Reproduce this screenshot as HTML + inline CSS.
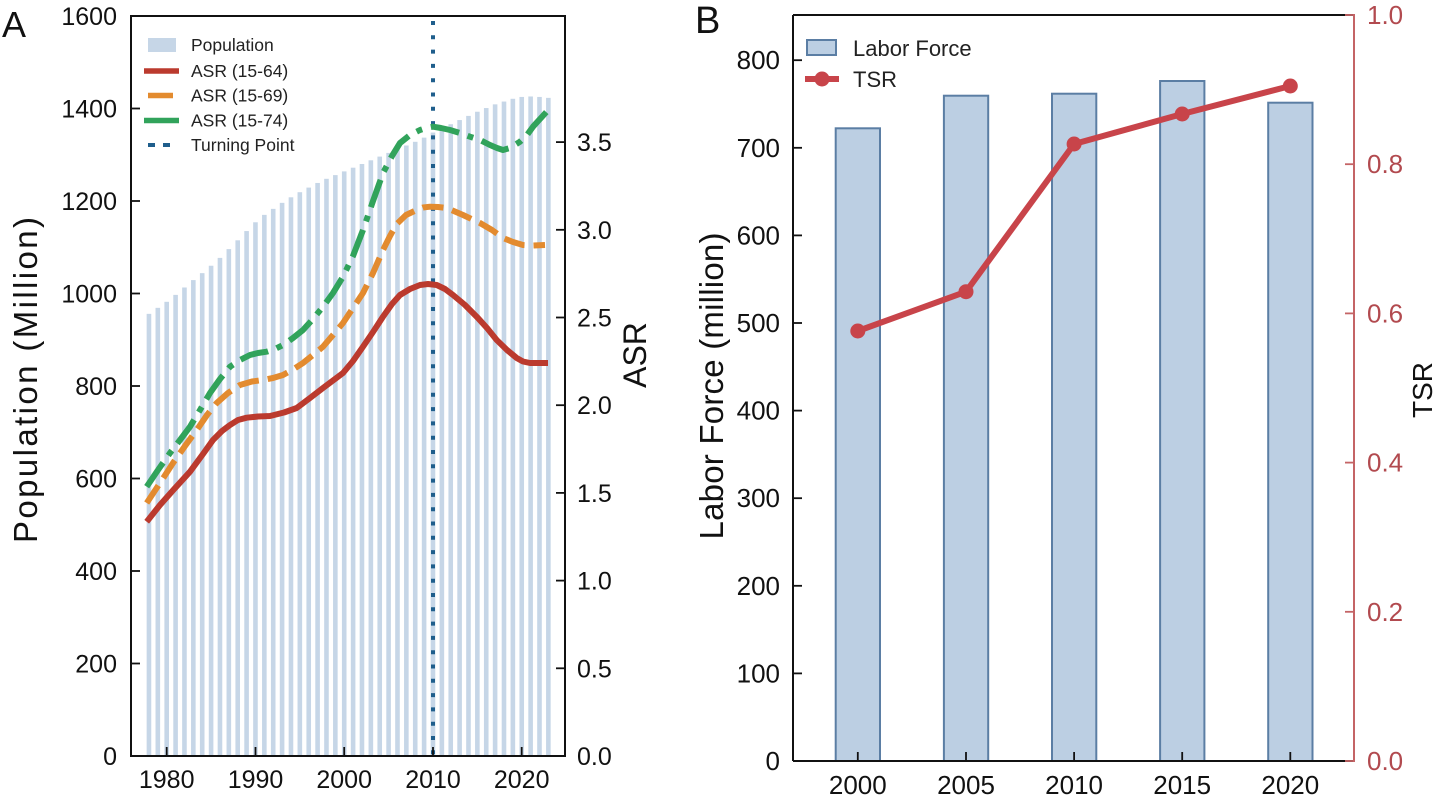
<!DOCTYPE html>
<html>
<head>
<meta charset="utf-8">
<style>
  html,body{margin:0;padding:0;background:#fff;}
  svg{display:block;}
  text{font-family:"Liberation Sans", Arial, sans-serif;}
</style>
</head>
<body>
<svg width="1442" height="800" viewBox="0 0 1442 800" xmlns="http://www.w3.org/2000/svg">
  <rect x="0" y="0" width="1442" height="800" fill="#fff"/>

  <!-- ================= PANEL A ================= -->
  <text x="2" y="37" font-size="36" fill="#111">A</text>

  <!-- population bars -->
  <g fill="#c6d6e7">
    <rect x="146.65" y="313.85" width="4.6" height="442.15"/>
    <rect x="155.52" y="307.84" width="4.6" height="448.16"/>
    <rect x="164.40" y="301.82" width="4.6" height="454.18"/>
    <rect x="173.28" y="294.89" width="4.6" height="461.11"/>
    <rect x="182.15" y="287.49" width="4.6" height="468.51"/>
    <rect x="191.03" y="280.09" width="4.6" height="475.91"/>
    <rect x="199.90" y="273.15" width="4.6" height="482.85"/>
    <rect x="208.78" y="265.75" width="4.6" height="490.25"/>
    <rect x="217.66" y="257.89" width="4.6" height="498.11"/>
    <rect x="226.53" y="249.10" width="4.6" height="506.90"/>
    <rect x="235.41" y="240.31" width="4.6" height="515.69"/>
    <rect x="244.28" y="231.06" width="4.6" height="524.94"/>
    <rect x="253.16" y="222.27" width="4.6" height="533.73"/>
    <rect x="262.04" y="214.87" width="4.6" height="541.13"/>
    <rect x="270.91" y="208.86" width="4.6" height="547.14"/>
    <rect x="279.79" y="202.85" width="4.6" height="553.15"/>
    <rect x="288.66" y="197.30" width="4.6" height="558.70"/>
    <rect x="297.54" y="192.21" width="4.6" height="563.79"/>
    <rect x="306.42" y="187.59" width="4.6" height="568.41"/>
    <rect x="315.29" y="182.96" width="4.6" height="573.04"/>
    <rect x="324.17" y="178.80" width="4.6" height="577.20"/>
    <rect x="333.04" y="175.10" width="4.6" height="580.90"/>
    <rect x="341.92" y="171.40" width="4.6" height="584.60"/>
    <rect x="350.80" y="167.70" width="4.6" height="588.30"/>
    <rect x="359.67" y="164.00" width="4.6" height="592.00"/>
    <rect x="368.55" y="160.30" width="4.6" height="595.70"/>
    <rect x="377.42" y="156.60" width="4.6" height="599.40"/>
    <rect x="386.30" y="152.90" width="4.6" height="603.10"/>
    <rect x="395.18" y="149.20" width="4.6" height="606.80"/>
    <rect x="404.05" y="145.50" width="4.6" height="610.50"/>
    <rect x="412.93" y="141.80" width="4.6" height="614.20"/>
    <rect x="421.80" y="137.64" width="4.6" height="618.36"/>
    <rect x="430.68" y="132.55" width="4.6" height="623.45"/>
    <rect x="439.56" y="128.39" width="4.6" height="627.61"/>
    <rect x="448.43" y="124.22" width="4.6" height="631.78"/>
    <rect x="457.31" y="120.06" width="4.6" height="635.94"/>
    <rect x="466.18" y="115.90" width="4.6" height="640.10"/>
    <rect x="475.06" y="111.74" width="4.6" height="644.26"/>
    <rect x="483.94" y="108.04" width="4.6" height="647.96"/>
    <rect x="492.81" y="104.34" width="4.6" height="651.66"/>
    <rect x="501.69" y="101.56" width="4.6" height="654.44"/>
    <rect x="510.56" y="98.79" width="4.6" height="657.21"/>
    <rect x="519.44" y="96.94" width="4.6" height="659.06"/>
    <rect x="528.32" y="96.47" width="4.6" height="659.53"/>
    <rect x="537.19" y="96.94" width="4.6" height="659.06"/>
    <rect x="546.07" y="97.86" width="4.6" height="658.14"/>
  </g>

  <!-- turning point -->
  <line x1="433" y1="21" x2="433" y2="756" stroke="#1f5e8c" stroke-width="4" stroke-dasharray="4,10.3"/>

  <!-- ASR 15-64 (red, solid) -->
  <polyline fill="none" stroke="#bb3a2e" stroke-width="6" stroke-linejoin="round" stroke-linecap="butt"
    points="146.7,521.7 160,505 173.3,490 190,471.7 203,454 213,440 222,431 230,425 238,420 246.7,417.7 258,416.5 270,416 284,412.5 296.7,408 310,398 323,388 343,373 353,361 363,346.7 373,332 383,316.7 392,304 400,295 410,289 420,285 428,284 436.7,285 445,289 453,295 465,305 476.7,316.7 487,328 496.7,340 507,350 516.7,358 523,361.5 530,363 548,363"/>

  <!-- ASR 15-69 (orange, dashed) -->
  <polyline fill="none" stroke="#e38b2f" stroke-width="6" stroke-linejoin="round" stroke-dasharray="21,9"
    points="146.7,503 160,483 173,463 185,446 196.7,430 207,415 216.7,403 228,393 240,385 252,381.5 263,380 273,378 283,375 293,369.5 303,363 313,355 323,346.7 333,335 343,323 353,308 363,293 373,273 383,250 390,236 396.7,224 406,215 416.7,210 423,207.5 430,206.7 438,207 446.7,208 463,215 480,223 492,230 503,238 513,242 523,245 533,245.5 545,245"/>

  <!-- ASR 15-74 (green, dash-dot) -->
  <polyline fill="none" stroke="#31a35b" stroke-width="6" stroke-linejoin="round" stroke-dasharray="29,9,6,9"
    points="146.7,486.7 158,470 170,453 180,440 190,426.7 200,410 210,393 220,379 230,366.7 240,360 250,355 258,353 266.7,351.7 275,349 283,345 293,338 303,330 313,319 323,306.7 333,293 343,276.7 353,256 363,230 373,201 383,173 392,156 400,143 410,135 420,130 426,128 433,126.7 441,128 450,130 460,133 470,136.7 480,140 490,145 497,148 503,150 510,148 520,141.7 527,135 533,126.7 540,119 546.7,111.7"/>

  <!-- frame A -->
  <rect x="131" y="16" width="434" height="740" fill="none" stroke="#111" stroke-width="2"/>

  <!-- ticks A -->
  <g stroke="#111" stroke-width="1.8">
    <line x1="131" y1="663.5" x2="140" y2="663.5"/>
    <line x1="131" y1="571" x2="140" y2="571"/>
    <line x1="131" y1="478.5" x2="140" y2="478.5"/>
    <line x1="131" y1="386" x2="140" y2="386"/>
    <line x1="131" y1="293.5" x2="140" y2="293.5"/>
    <line x1="131" y1="201" x2="140" y2="201"/>
    <line x1="131" y1="108.5" x2="140" y2="108.5"/>
    <line x1="556" y1="668.3" x2="565" y2="668.3"/>
    <line x1="556" y1="580.6" x2="565" y2="580.6"/>
    <line x1="556" y1="492.9" x2="565" y2="492.9"/>
    <line x1="556" y1="405.2" x2="565" y2="405.2"/>
    <line x1="556" y1="317.5" x2="565" y2="317.5"/>
    <line x1="556" y1="229.8" x2="565" y2="229.8"/>
    <line x1="556" y1="142.1" x2="565" y2="142.1"/>
    <line x1="166.7" y1="747" x2="166.7" y2="756"/>
    <line x1="255.5" y1="747" x2="255.5" y2="756"/>
    <line x1="344.2" y1="747" x2="344.2" y2="756"/>
    <line x1="433" y1="747" x2="433" y2="756"/>
    <line x1="521.7" y1="747" x2="521.7" y2="756"/>
  </g>

  <g font-size="25" fill="#111" text-anchor="end">
    <text x="117" y="765">0</text>
    <text x="117" y="672.5">200</text>
    <text x="117" y="580">400</text>
    <text x="117" y="487.5">600</text>
    <text x="117" y="395">800</text>
    <text x="117" y="302.5">1000</text>
    <text x="117" y="210">1200</text>
    <text x="117" y="117.5">1400</text>
    <text x="117" y="25">1600</text>
  </g>
  <g font-size="25" fill="#111" text-anchor="start">
    <text x="577" y="765">0.0</text>
    <text x="577" y="677.3">0.5</text>
    <text x="577" y="589.6">1.0</text>
    <text x="577" y="501.9">1.5</text>
    <text x="577" y="414.2">2.0</text>
    <text x="577" y="326.5">2.5</text>
    <text x="577" y="238.8">3.0</text>
    <text x="577" y="151.1">3.5</text>
  </g>
  <g font-size="25" fill="#111" text-anchor="middle">
    <text x="166.7" y="788">1980</text>
    <text x="255.5" y="788">1990</text>
    <text x="344.2" y="788">2000</text>
    <text x="433" y="788">2010</text>
    <text x="521.7" y="788">2020</text>
  </g>

  <text transform="translate(37,380) rotate(-90)" font-size="33" fill="#111" text-anchor="middle" textLength="326" lengthAdjust="spacing">Population (Million)</text>
  <text transform="translate(646,355) rotate(-90)" font-size="32" fill="#111" text-anchor="middle">ASR</text>

  <!-- legend A -->
  <rect x="148" y="38" width="28" height="14" fill="#c6d6e7"/>
  <line x1="144" y1="71" x2="179" y2="71" stroke="#bb3a2e" stroke-width="5.5"/>
  <line x1="148" y1="95.5" x2="173" y2="95.5" stroke="#e38b2f" stroke-width="5.5"/>
  <line x1="144" y1="120.5" x2="179" y2="120.5" stroke="#31a35b" stroke-width="5.5"/>
  <rect x="148" y="143" width="7" height="4" fill="#1f5e8c"/>
  <rect x="163" y="143" width="7" height="4" fill="#1f5e8c"/>
  <g font-size="17.5" fill="#222">
    <text x="191" y="51">Population</text>
    <text x="191" y="77">ASR (15-64)</text>
    <text x="191" y="101.5">ASR (15-69)</text>
    <text x="191" y="126.5">ASR (15-74)</text>
    <text x="191" y="151">Turning Point</text>
  </g>

  <!-- ================= PANEL B ================= -->
  <text x="695" y="33" font-size="38" fill="#111">B</text>

  <g fill="#bccfe3" stroke="#5b7ea4" stroke-width="2">
    <rect x="835.7" y="128.3" width="44.3" height="632.7"/>
    <rect x="943.9" y="95.7" width="44.3" height="665.3"/>
    <rect x="1052.0" y="93.7" width="44.3" height="667.3"/>
    <rect x="1160.1" y="81" width="44.3" height="680"/>
    <rect x="1268.2" y="102.7" width="44.3" height="658.3"/>
  </g>

  <polyline fill="none" stroke="#c8444a" stroke-width="6" stroke-linejoin="round"
    points="857.8,331 966,291.7 1074.1,144 1182.2,114 1290.3,86"/>
  <g fill="#c8444a">
    <circle cx="857.8" cy="331" r="7.5"/>
    <circle cx="966" cy="291.7" r="7.5"/>
    <circle cx="1074.1" cy="144" r="7.5"/>
    <circle cx="1182.2" cy="114" r="7.5"/>
    <circle cx="1290.3" cy="86" r="7.5"/>
  </g>

  <line x1="793" y1="15" x2="1354" y2="15" stroke="#111" stroke-width="2"/>
  <line x1="793" y1="15" x2="793" y2="761" stroke="#111" stroke-width="2"/>
  <line x1="793" y1="761" x2="1354" y2="761" stroke="#111" stroke-width="2"/>
  <line x1="1354" y1="14" x2="1354" y2="762" stroke="#c46466" stroke-width="2"/>

  <g stroke="#111" stroke-width="1.8">
    <line x1="793" y1="673.4" x2="802" y2="673.4"/>
    <line x1="793" y1="585.8" x2="802" y2="585.8"/>
    <line x1="793" y1="498.2" x2="802" y2="498.2"/>
    <line x1="793" y1="410.6" x2="802" y2="410.6"/>
    <line x1="793" y1="323" x2="802" y2="323"/>
    <line x1="793" y1="235.4" x2="802" y2="235.4"/>
    <line x1="793" y1="147.8" x2="802" y2="147.8"/>
    <line x1="793" y1="60.2" x2="802" y2="60.2"/>
    <line x1="857.8" y1="752" x2="857.8" y2="761"/>
    <line x1="966" y1="752" x2="966" y2="761"/>
    <line x1="1074.1" y1="752" x2="1074.1" y2="761"/>
    <line x1="1182.2" y1="752" x2="1182.2" y2="761"/>
    <line x1="1290.3" y1="752" x2="1290.3" y2="761"/>
  </g>
  <g stroke="#c46466" stroke-width="1.8">
    <line x1="1345" y1="761" x2="1354" y2="761"/>
    <line x1="1345" y1="611.8" x2="1354" y2="611.8"/>
    <line x1="1345" y1="462.6" x2="1354" y2="462.6"/>
    <line x1="1345" y1="313.4" x2="1354" y2="313.4"/>
    <line x1="1345" y1="164.2" x2="1354" y2="164.2"/>
    <line x1="1345" y1="15" x2="1354" y2="15"/>
  </g>

  <g font-size="26" fill="#111" text-anchor="end">
    <text x="780" y="770">0</text>
    <text x="780" y="682.4">100</text>
    <text x="780" y="594.8">200</text>
    <text x="780" y="507.2">300</text>
    <text x="780" y="419.6">400</text>
    <text x="780" y="332">500</text>
    <text x="780" y="244.4">600</text>
    <text x="780" y="156.8">700</text>
    <text x="780" y="69.2">800</text>
  </g>
  <g font-size="26" fill="#b24a4f" text-anchor="start">
    <text x="1367" y="770">0.0</text>
    <text x="1367" y="620.8">0.2</text>
    <text x="1367" y="471.6">0.4</text>
    <text x="1367" y="322.4">0.6</text>
    <text x="1367" y="173.2">0.8</text>
    <text x="1367" y="24">1.0</text>
  </g>
  <g font-size="26" fill="#111" text-anchor="middle">
    <text x="857.8" y="794">2000</text>
    <text x="966" y="794">2005</text>
    <text x="1074.1" y="794">2010</text>
    <text x="1182.2" y="794">2015</text>
    <text x="1290.3" y="794">2020</text>
  </g>

  <text transform="translate(723,386) rotate(-90)" font-size="33" fill="#111" text-anchor="middle" textLength="307" lengthAdjust="spacing">Labor Force (million)</text>
  <text transform="translate(1432,390) rotate(-90)" font-size="28" fill="#111" text-anchor="middle">TSR</text>

  <rect x="807" y="40" width="29" height="15" fill="#bccfe3" stroke="#5b7ea4" stroke-width="2"/>
  <line x1="805" y1="79" x2="839" y2="79" stroke="#c8444a" stroke-width="6"/>
  <circle cx="822" cy="79" r="7.5" fill="#c8444a"/>
  <g font-size="22" fill="#222">
    <text x="853" y="56">Labor Force</text>
    <text x="853" y="87">TSR</text>
  </g>
</svg>
</body>
</html>
